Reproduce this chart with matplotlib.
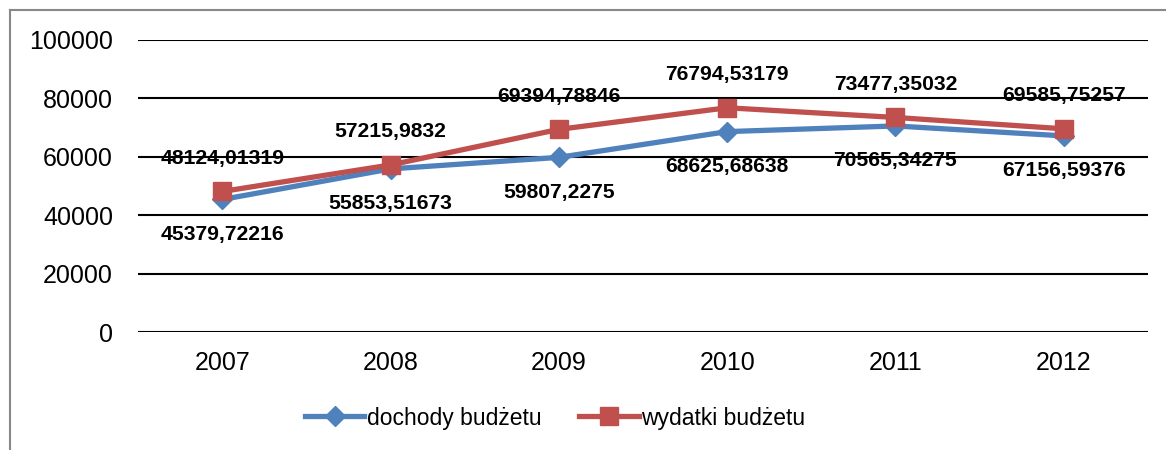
import matplotlib
matplotlib.use('Agg')
import matplotlib.pyplot as plt
from matplotlib.lines import Line2D

plt.rcParams['font.family'] = ['Liberation Sans', 'DejaVu Sans']

years = ['2007', '2008', '2009', '2010', '2011', '2012']
dochody = [45379.72216, 55853.51673, 59807.2275, 68625.68638, 70565.34275, 67156.59376]
wydatki = [48124.01319, 57215.9832, 69394.78846, 76794.53179, 73477.35032, 69585.75257]
dochody_lbl = ['45379,72216', '55853,51673', '59807,2275', '68625,68638', '70565,34275', '67156,59376']
wydatki_lbl = ['48124,01319', '57215,9832', '69394,78846', '76794,53179', '73477,35032', '69585,75257']

blue = '#4F81BD'
red = '#C0504D'

fig = plt.figure(figsize=(11.66, 4.5), dpi=100)
ax = fig.add_axes([138/1166, 1 - 332/450, (1148-138)/1166, (332-40)/450])

x = list(range(len(years)))
ax.plot(x, dochody, color=blue, lw=3.8, marker='D', ms=10, mec=blue, label='dochody budżetu', zorder=3)
ax.plot(x, wydatki, color=red, lw=3.8, marker='s', ms=13, mec=red, label='wydatki budżetu', zorder=4)

for i in x:
    ax.annotate(wydatki_lbl[i], (i, wydatki[i]), xytext=(0, 24), textcoords='offset points',
                ha='center', va='center', fontsize=15.2, fontweight='bold', zorder=5)
    ax.annotate(dochody_lbl[i], (i, dochody[i]), xytext=(0, -25), textcoords='offset points',
                ha='center', va='center', fontsize=15.2, fontweight='bold', zorder=5)

ax.set_xlim(-0.5, 5.5)
ax.set_ylim(0, 100000)
ax.set_yticks(range(0, 100001, 20000))
ax.set_xticks(x)
ax.set_xticklabels(years)
ax.tick_params(axis='both', length=0, labelsize=18)
ax.tick_params(axis='y', pad=18)
ax.tick_params(axis='x', pad=14)
ax.grid(axis='y', color='black', lw=1.5, zorder=0)
ax.set_axisbelow(True)
for s in ax.spines.values():
    s.set_visible(False)

ax.legend(loc='center', bbox_to_anchor=(555/1166, 1 - 418/450), bbox_transform=fig.transFigure,
          ncol=2, frameon=False, fontsize=16.5, handlelength=2.6, handletextpad=0.1,
          columnspacing=1.65)

# outer chart frame (left and top edges visible)
fig.add_artist(Line2D([9.5/1166, 9.5/1166], [0, 1 - 10/450], color='#888888', lw=1.5))
fig.add_artist(Line2D([9.5/1166, 1.0], [1 - 10/450, 1 - 10/450], color='#888888', lw=1.5))

plt.savefig('out.png', dpi=100)
